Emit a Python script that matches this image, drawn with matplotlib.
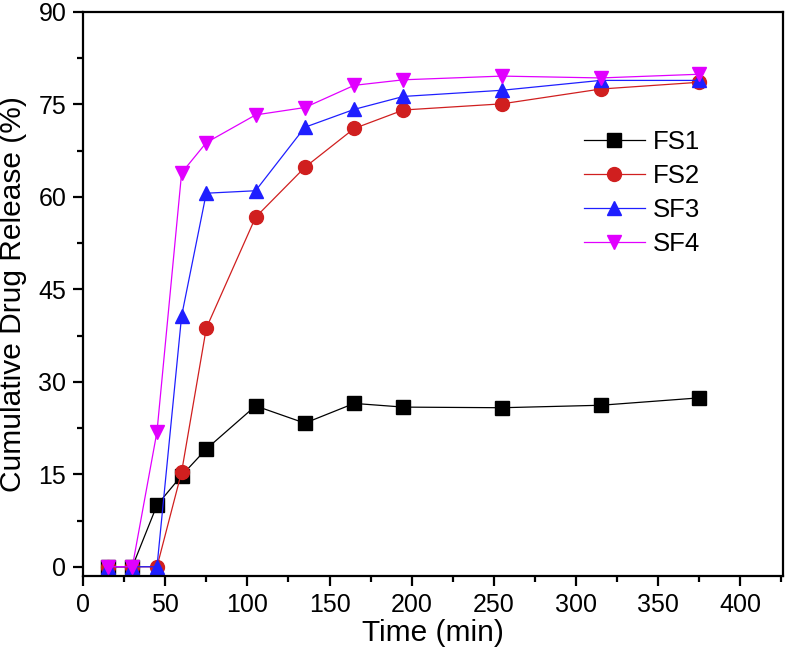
import matplotlib
matplotlib.use("Agg")
import matplotlib.pyplot as plt
from matplotlib.ticker import MultipleLocator

plt.rcParams['font.family'] = ['Liberation Sans', 'DejaVu Sans']

time = [15, 30, 45, 60, 75, 105, 135, 165, 195, 255, 315, 375]
fs1 = [0, 0, 10.0, 14.8, 19.1, 26.1, 23.3, 26.5, 25.9, 25.8, 26.2, 27.4]
fs2 = [0, 0, 0, 15.4, 38.7, 56.7, 64.8, 71.1, 74.1, 75.1, 77.5, 78.6]
sf3 = [0, 0, 0, 40.7, 60.6, 61.0, 71.3, 74.2, 76.3, 77.3, 78.9, 78.9]
sf4 = [0, 0, 21.9, 63.9, 68.8, 73.3, 74.5, 78.1, 79.0, 79.6, 79.3, 79.9]

labels = ["FS1", "FS2", "SF3", "SF4"]
colors = ["#000000", "#d01f1f", "#1f1fff", "#e100ff"]
markers = ["s", "o", "^", "v"]
series = [fs1, fs2, sf3, sf4]

fig = plt.figure(figsize=(7.87, 6.55), dpi=100)
ax = fig.add_axes([0.1055, 0.1206, 0.8895, 0.8611])

for ys, lab, c, m in zip(series, labels, colors, markers):
    ax.plot(time, ys, color=c, marker=m, markersize=10, linewidth=0.9,
            label=lab, markeredgecolor=c, markerfacecolor=c)

ax.set_xlim(0, 426)
ax.set_ylim(-1.5, 90)
ax.xaxis.set_major_locator(MultipleLocator(50))
ax.xaxis.set_minor_locator(MultipleLocator(25))
ax.yaxis.set_major_locator(MultipleLocator(15))
ax.yaxis.set_minor_locator(MultipleLocator(7.5))
ax.tick_params(which='both', direction='out', width=1.6, top=False, right=False, labelsize=18)
ax.tick_params(which='major', length=7, pad=5)
ax.tick_params(which='minor', length=4.5)
for s in ax.spines.values():
    s.set_linewidth(1.6)

ax.set_xlabel("Time (min)", fontsize=21.5, labelpad=2)
ax.set_ylabel("Cumulative Drug Release (%)", fontsize=21.5, labelpad=8)

ax.legend(loc='upper left', bbox_to_anchor=(0.682, 0.831), frameon=False,
          fontsize=18.5, handlelength=2.4, labelspacing=0.38, handletextpad=0.3)

fig.savefig("out.png", dpi=100)
